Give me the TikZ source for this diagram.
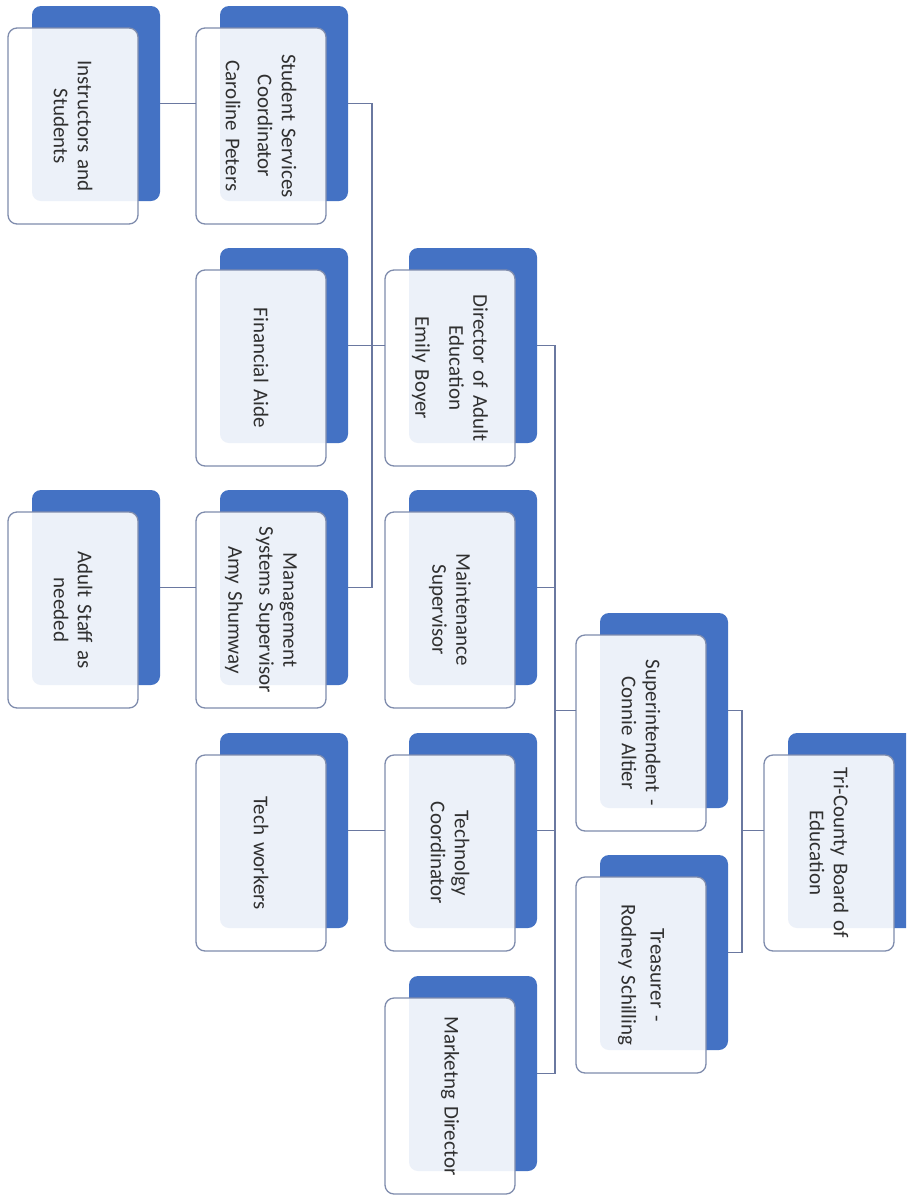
\documentclass[tikz,border=0pt]{standalone}
\usepackage{fontspec}
\setmainfont{Carlito}
\definecolor{bluebg}{HTML}{4472C4}
\definecolor{boxline}{HTML}{7F8CAD}
\definecolor{connclr}{HTML}{6A78A0}
\definecolor{txt}{HTML}{303030}
\tikzset{
  backbox/.style={rectangle, rounded corners=9pt, fill=bluebg, draw=none,
    minimum width=128pt, minimum height=195pt, inner sep=0pt, outer sep=0pt},
  frontbox/.style={rectangle, rounded corners=9pt, fill=white, fill opacity=0.9,
    draw=boxline, line width=1.3pt, minimum width=130pt, minimum height=196pt,
    inner sep=0pt, outer sep=0pt},
  boxtext/.style={rotate=-90, text width=175pt, align=center,
    font=\fontsize{21}{24}\selectfont, text=txt, inner sep=0pt},
  linkline/.style={draw=connclr, line width=1.2pt}
}
\newcommand\orgbox[4]{%
  \node[backbox] (#1-bg) at ({#2+88},{#3+97.5}) {};
  \node[frontbox] (#1) at ({#2+65},{#3+120}) {};
  \node[boxtext] (#1-t) at (#1) {#4};
  \coordinate (#1-r) at ({#2+152},{#3+97.5});
  \coordinate (#1-l) at ({#2},{#3+97.5});
}
\begin{document}
\begin{tikzpicture}[x=1pt,y=-1pt]
\useasboundingbox (0,0) rectangle (906,1195);
\clip (0,0) rectangle (906,1195);
\fill[white] (0,0) rectangle (906,1195);

\orgbox{ins}{8}{6}{Instructors and\\Students}
\orgbox{ssc}{196}{6}{Student Services\\Coordinator\\[8pt]Caroline Peters}
\orgbox{fin}{196}{248}{Financial Aide}
\orgbox{mgmt}{196}{490}{Management\\Systems Supervisor\\[7pt]Amy Shumway}
\orgbox{adult}{8}{490}{Adult Staff as\\needed}
\orgbox{techw}{196}{733}{Tech workers}
\orgbox{dir}{385}{248}{Director of Adult\\Education\\[10pt]Emily Boyer}
\orgbox{maint}{385}{490}{Maintenance\\Supervisor}
\orgbox{techc}{385}{733}{Technolgy\\Coordinator}
\orgbox{mark}{385}{976}{Marketng Director}
\orgbox{sup}{576}{613}{Superintendent -\\Connie Altier}
\orgbox{tre}{576}{855}{Treasurer -\\[5pt]Rodney Schilling}
\orgbox{tri}{764}{733}{Tri-County Board of\\Education}

% connectors
\draw[linkline] (tri-l) -- ++(-22,0) |- (sup-r);
\draw[linkline] (tri-l) -- ++(-22,0) |- (tre-r);

\draw[linkline] (sup-l) -- ++(-21,0) |- (dir-r);
\draw[linkline] (sup-l) -- ++(-21,0) |- (maint-r);
\draw[linkline] (sup-l) -- ++(-21,0) |- (techc-r);
\draw[linkline] (sup-l) -- ++(-21,0) |- (mark-r);

\draw[linkline] (dir-l) -- ++(-13,0) |- (ssc-r);
\draw[linkline] (dir-l) -- ++(-13,0) |- (fin-r);
\draw[linkline] (dir-l) -- ++(-13,0) |- (mgmt-r);

\draw[linkline] (ssc-l) -- (ins-r);
\draw[linkline] (mgmt-l) -- (adult-r);
\draw[linkline] (techc-l) -- (techw-r);
\end{tikzpicture}
\end{document}
